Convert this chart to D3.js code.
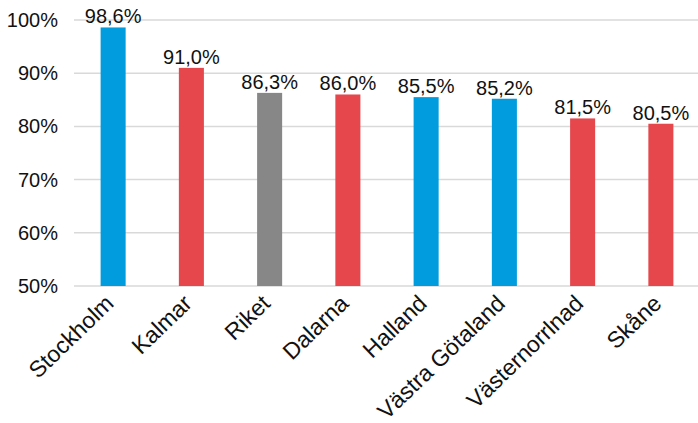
<!DOCTYPE html>
<html>
<head>
<meta charset="utf-8">
<script src="https://cdn.jsdelivr.net/npm/d3@7"></script>
<style>
  html, body { margin: 0; padding: 0; background: #fff; }
  svg text { font-family: "Liberation Sans", Arial, Helvetica, sans-serif; fill: #111; }
</style>
</head>
<body>
<svg id="chart" width="698" height="423"></svg>
<script>
// Share per region (percent)
const regions = ["Stockholm", "Kalmar", "Riket", "Dalarna", "Halland", "Västra Götaland", "Västernorrlnad", "Skåne"];
const shares = [98.6, 91.0, 86.3, 86.0, 85.5, 85.2, 81.5, 80.5];
const groups = ["blue", "red", "gray", "red", "blue", "blue", "red", "red"];
const yTicks = [50, 60, 70, 80, 90, 100];

const palette = { blue: "#009cdd", red: "#e5474c", gray: "#878787" };

const svg = d3.select("#chart");
const margin = { top: 20, right: 0, bottom: 137, left: 74 };
const width = 698 - margin.left - margin.right;
const height = 423 - margin.top - margin.bottom;

const g = svg.append("g").attr("transform", `translate(${margin.left},${margin.top})`);

const x = d3.scaleBand().domain(regions).range([0, width + 2]).paddingInner(0.68).paddingOuter(0.34);
const y = d3.scaleLinear().domain([50, 100]).range([height, 0]);

// horizontal gridlines
g.append("g")
  .selectAll("line")
  .data(yTicks)
  .join("line")
  .attr("x1", 0).attr("x2", width)
  .attr("y1", d => y(d)).attr("y2", d => y(d))
  .attr("stroke", "#d9d9d9").attr("stroke-width", 1.5);

// y axis labels
const yAxis = g.append("g")
  .call(d3.axisLeft(y).tickValues(yTicks).tickSize(0).tickPadding(16).tickFormat(d => d + "%"));
yAxis.select(".domain").remove();
yAxis.selectAll("text").attr("font-size", 20).style("font-family", "'Liberation Sans', Arial, sans-serif").attr("fill", "#111");

// bars
g.append("g")
  .selectAll("rect")
  .data(regions)
  .join("rect")
  .attr("x", d => x(d))
  .attr("width", x.bandwidth())
  .attr("y", (d, i) => y(shares[i]))
  .attr("height", (d, i) => y(50) - y(shares[i]))
  .attr("fill", (d, i) => palette[groups[i]]);

// value labels
g.append("g")
  .selectAll("text")
  .data(regions)
  .join("text")
  .attr("x", d => x(d) + x.bandwidth() / 2)
  .attr("y", (d, i) => y(shares[i]) - 4)
  .attr("text-anchor", "middle")
  .attr("font-size", 20)
  .text((d, i) => shares[i].toFixed(1).replace(".", ",") + "%");

// x axis with slanted category names
const xAxis = g.append("g")
  .attr("transform", `translate(0,${height})`)
  .call(d3.axisBottom(x).tickSize(0).tickPadding(0));
xAxis.select(".domain").remove();
xAxis.selectAll("text")
  .attr("font-size", 23)
  .style("font-family", "'Liberation Sans', Arial, sans-serif")
  .attr("fill", "#111")
  .attr("text-anchor", "end")
  .attr("y", 0)
  .attr("dy", "0")
  .attr("transform", "translate(2,19) rotate(-44)");
</script>
</body>
</html>
